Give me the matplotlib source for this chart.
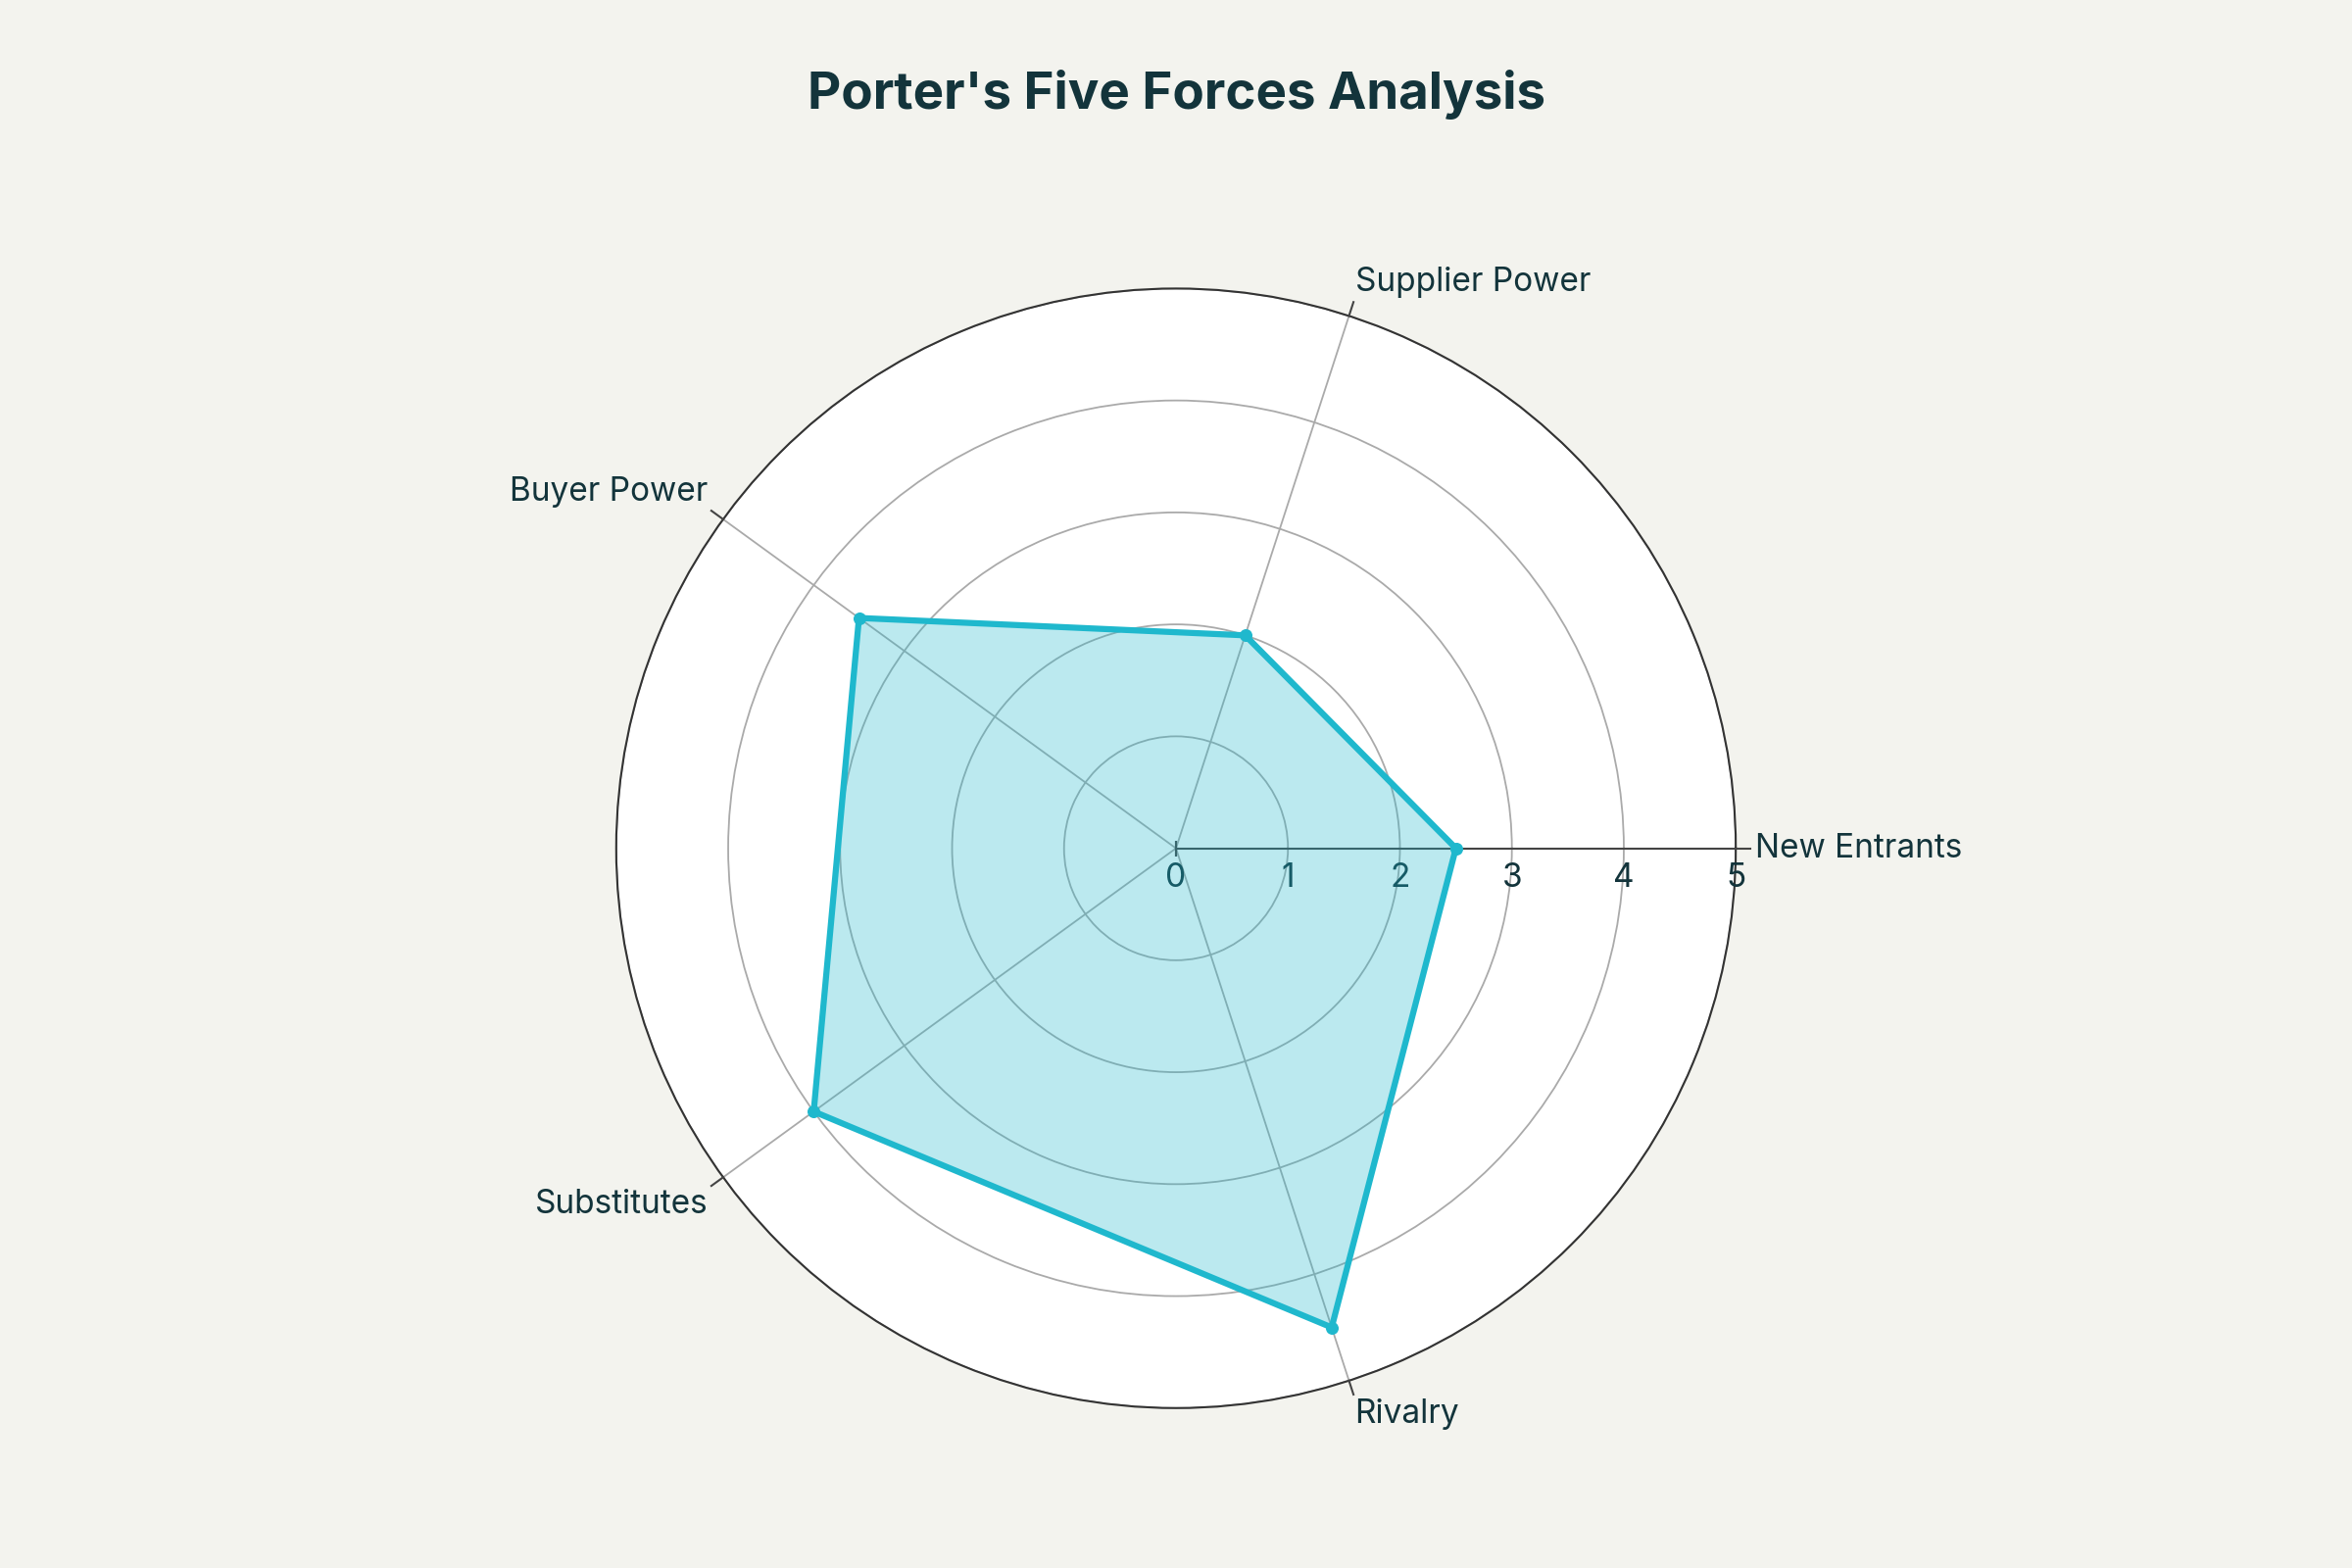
import numpy as np
import matplotlib
matplotlib.use("Agg")
import matplotlib.pyplot as plt
import matplotlib.transforms as mtrans

plt.rcParams['font.family'] = ['Inter', 'DejaVu Sans']

categories = ["New Entrants", "Supplier Power", "Buyer Power", "Substitutes", "Rivalry"]
values = [2.5, 2.0, 3.5, 4.0, 4.5]
rticks = [0, 1, 2, 3, 4, 5]

txt = "#13343B"
line_c = "#1FB8CD"

fig = plt.figure(figsize=(24, 16), dpi=100, facecolor="#F3F3EE")
ax = fig.add_axes([0.262, 0.102, 0.476, 0.714], projection="polar")
ax.set_facecolor("white")

ang = np.deg2rad(np.arange(len(categories)) * 72.0)
a_c = np.concatenate([ang, ang[:1]])
v_c = values + values[:1]
ax.fill(a_c, v_c, color=line_c, alpha=0.3, lw=0, zorder=5)
ax.plot(a_c, v_c, color=line_c, lw=4.5, zorder=6)
ax.scatter(ang, values, color=line_c, s=70, zorder=7)

ax.set_ylim(0, 5)
ax.set_yticks(rticks)
ax.set_yticklabels([])
ax.set_xticks(ang)
ax.set_xticklabels([])
ax.tick_params(axis='x', length=0)
ax.grid(True, color="#AAAAAA", lw=1.3, zorder=1)
ax.spines['polar'].set_color("#333333")
ax.spines['polar'].set_linewidth(1.5)
off = mtrans.ScaledTranslation(0, -0.14, fig.dpi_scale_trans)
for r in rticks:
    ax.text(0, r, str(r), fontsize=24, color=txt, ha="center", va="top",
            transform=ax.transData + off)
ax.plot([0, 0], [0, 5], color="#444444", lw=1.5, zorder=3)
ax.plot([0, 0], [0, 0], marker=(2, 0, 0), ms=12, color="#444444", mew=1.5, zorder=3)
for a in ang:
    ax.plot([a, a], [5, 5.13], color="#444444", lw=1.5, clip_on=False, zorder=3)

align = [("left", "center"), ("left", "bottom"), ("right", "bottom"), ("right", "top"), ("left", "top")]
for a, lab, (ha, va) in zip(ang, categories, align):
    ax.text(a, 5.17, lab, fontsize=24, color=txt, ha=ha, va=va, clip_on=False)

fig.text(0.5, 0.94, "Porter's Five Forces Analysis", ha="center", va="center",
         fontsize=38, fontweight="bold", color=txt)
fig.savefig("out.png", dpi=100, facecolor=fig.get_facecolor())
